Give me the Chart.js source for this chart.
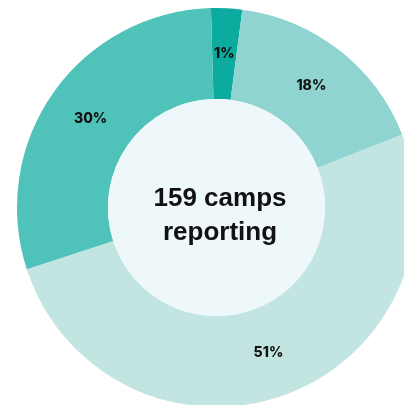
<!DOCTYPE html>
<html>
<head>
<meta charset="utf-8">
<script src="https://cdn.jsdelivr.net/npm/chart.js@4.4.1/dist/chart.umd.min.js"></script>
<style>
  html, body { margin: 0; padding: 0; background: #fff; overflow: hidden; width: 404px; height: 405px; }
  #wrap { position: absolute; left: 0; top: 0; }
</style>
</head>
<body>
<div id="wrap"><canvas id="camps-chart" width="433" height="415"></canvas></div>
<script>
// camps per answer (159 in total)
const categorias = ['A', 'B', 'C', 'D']
const camps = [4, 27, 81, 47]
const rotulos = ['1%', '18%', '51%', '30%']
const cores = ['#0cab9f', '#90d4d2', '#c2e5e1', '#4fc2b9']
const centroTexto = ['159 camps', 'reporting']

const rotulosPlugin = {
  id: 'rotulos',
  afterDatasetsDraw(chart) {
    const ctx = chart.ctx
    const meta = chart.getDatasetMeta(0)
    const arc0 = meta.data[0]
    const cx = arc0.x
    const cy = arc0.y

    // miolo claro
    ctx.save()
    ctx.beginPath()
    ctx.arc(cx, cy, arc0.innerRadius, 0, Math.PI * 2)
    ctx.fillStyle = '#eef7f9'
    ctx.fill()

    ctx.fillStyle = '#111'
    ctx.textAlign = 'center'
    ctx.textBaseline = 'middle'
    ctx.font = 'bold 26px "Liberation Sans", Arial, sans-serif'
    ctx.fillText(centroTexto[0], cx + 3.5, cy - 9)
    ctx.fillText(centroTexto[1], cx + 3.5, cy + 25)

    ctx.font = '800 14px Inter, "DejaVu Sans", sans-serif'
    meta.data.forEach((arc, i) => {
      const p = arc.tooltipPosition()
      ctx.fillText(rotulos[i], p.x, p.y)
    })
    ctx.restore()
  }
}

const chart = new Chart(document.getElementById('camps-chart'), {
  type: 'doughnut',
  data: {
    labels: categorias,
    datasets: [{
      data: camps,
      backgroundColor: cores,
      borderWidth: 0
    }]
  },
  options: {
    responsive: false,
    devicePixelRatio: 1,
    animation: false,
    cutout: '54.4%',
    rotation: -1.6,
    layout: { padding: 8 },
    plugins: {
      legend: { display: false },
      tooltip: { enabled: false }
    }
  },
  plugins: [rotulosPlugin]
})
</script>
</body>
</html>
